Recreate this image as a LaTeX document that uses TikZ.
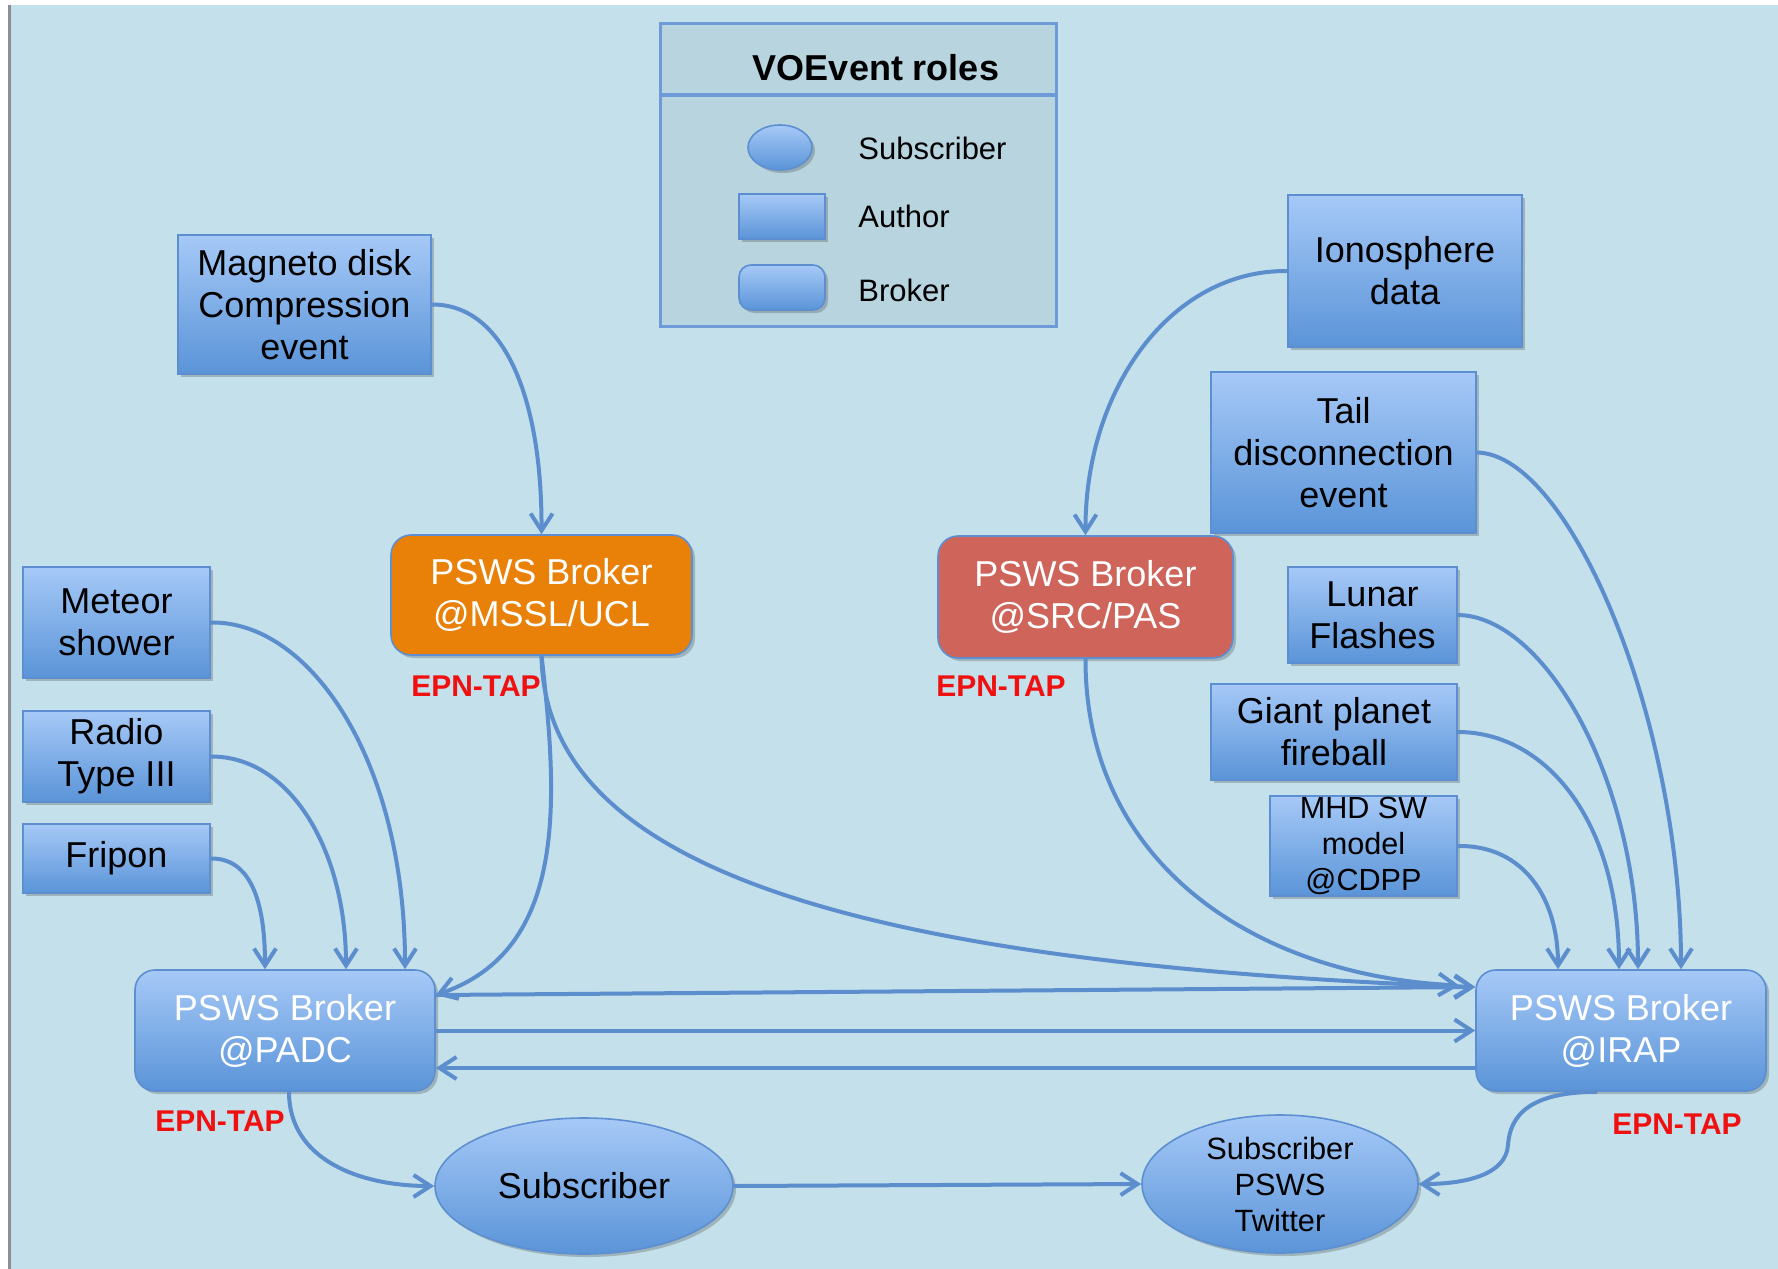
\documentclass[tikz,border=0pt]{standalone}
\usepackage{fontspec}
\setmainfont{Liberation Sans}
\usetikzlibrary{shapes.geometric,arrows.meta,shadows}
\definecolor{bg}{HTML}{C3E0EB}
\definecolor{lgfill}{HTML}{B7D4DF}
\definecolor{lgline}{HTML}{6E9BD8}
\definecolor{boxtop}{HTML}{A6C9F7}
\definecolor{boxbot}{HTML}{5A94D8}
\definecolor{boxline}{HTML}{5D8FD0}
\definecolor{orng}{HTML}{E98008}
\definecolor{rosy}{HTML}{CE645A}
\definecolor{linkcol}{HTML}{5C8DCC}
\definecolor{edgegray}{HTML}{8E8E9A}
\definecolor{epnred}{HTML}{F01010}
\begin{document}
\begin{tikzpicture}[x=0.5pt,y=-0.5pt,
  shad/.style={drop shadow={shadow xshift=1.5pt,shadow yshift=-1.5pt,opacity=0.3,fill=black!70}},
  auth/.style={rectangle,draw=boxline,line width=0.8pt,top color=boxtop,bottom color=boxbot,
    shad,align=center,inner sep=0pt,font=\fontsize{18pt}{21pt}\selectfont},
  brk/.style={auth,rounded corners=10pt,text=white},
  flatbrk/.style={rectangle,rounded corners=10pt,draw=boxline,line width=0.8pt,shad,
    align=center,inner sep=0pt,text=white,font=\fontsize{18pt}{21pt}\selectfont},
  subs/.style={ellipse,draw=boxline,line width=0.8pt,top color=boxtop,bottom color=boxbot,
    shad,align=center,inner sep=0pt},
  epn/.style={text=epnred,font=\bfseries\fontsize{15pt}{17pt}\selectfont,inner sep=0pt},
  lgtext/.style={anchor=west,inner sep=0pt,font=\fontsize{15.5pt}{18pt}\selectfont},
  link/.style={draw=linkcol,line width=2pt,-{Straight Barb[length=8.5pt,width=11pt]}},
  plain/.style={draw=linkcol,line width=2pt}
]
\useasboundingbox (0,0) rectangle (1778,1269);
\fill[white] (0,0) rectangle (1778,1269);
\fill[edgegray] (8,5) rectangle (11,1269);
\fill[bg] (11,5) rectangle (1778,1269);

% legend
\node[rectangle,draw=lgline,fill=lgfill,line width=1.5pt,minimum width=198pt,minimum height=151.5pt,inner sep=0pt] (legend) at (858,174.5) {};
\draw[lgline,line width=2pt] ([yshift=-36.5pt]legend.north west) -- ([yshift=-36.5pt]legend.north east);
\node[font=\bfseries\fontsize{18pt}{20pt}\selectfont,inner sep=0pt] (lgtitle) at (876,68) {VOEvent roles};
\node[subs,minimum width=32pt,minimum height=22.5pt] (lsub) at (780,147.5) {};
\node[auth,minimum width=43pt,minimum height=22.5pt] (lauth) at (782,216.5) {};
\node[auth,rounded corners=6pt,minimum width=43pt,minimum height=22.5pt] (lbrk) at (782,287.5) {};
\node[lgtext] (lsubt) at (858,148) {Subscriber};
\node[lgtext] (lautht) at (858,216) {Author};
\node[lgtext] (lbrkt) at (858,290) {Broker};

% author boxes
\node[auth,minimum width=126.5pt,minimum height=69.5pt] (magneto) at (304.5,304.5) {Magneto disk\\Compression\\event};
\node[auth,minimum width=117pt,minimum height=76pt] (iono) at (1405,271) {Ionosphere\\data};
\node[auth,minimum width=132.5pt,minimum height=80.5pt] (tail) at (1343.5,452.5) {Tail\\disconnection\\event};
\node[auth,minimum width=84.5pt,minimum height=48pt] (lunar) at (1372.5,615) {Lunar\\Flashes};
\node[auth,minimum width=123pt,minimum height=48pt] (giant) at (1334,732) {Giant planet\\fireball};
\node[auth,minimum width=93.5pt,minimum height=50pt,font=\fontsize{15.3pt}{18pt}\selectfont] (mhd) at (1363.5,846) {MHD SW\\model\\@CDPP};
\node[auth,minimum width=93.5pt,minimum height=55.5pt] (meteor) at (116.5,622.5) {Meteor\\shower};
\node[auth,minimum width=93.5pt,minimum height=45.5pt] (radio) at (116.5,756.5) {Radio\\Type III};
\node[auth,minimum width=93.5pt,minimum height=34.5pt] (fripon) at (116.5,858.5) {Fripon};

% brokers
\node[flatbrk,fill=orng,minimum width=150.5pt,minimum height=60pt] (mssl) at (541.5,595) {PSWS Broker\\@MSSL/UCL};
\node[flatbrk,fill=rosy,minimum width=147.5pt,minimum height=61pt] (src) at (1085.5,597) {PSWS Broker\\@SRC/PAS};
\node[brk,minimum width=150pt,minimum height=60.5pt] (padc) at (285,1030.5) {PSWS Broker\\@PADC};
\node[brk,minimum width=145pt,minimum height=60.5pt] (irap) at (1621,1030.5) {PSWS Broker\\@IRAP};

% subscribers
\node[subs,minimum width=149pt,minimum height=68pt,font=\fontsize{18pt}{21pt}\selectfont] (sub) at (584,1186) {Subscriber};
\node[subs,minimum width=138pt,minimum height=69pt,font=\fontsize{15.4pt}{18pt}\selectfont] (tw) at (1280,1184) {Subscriber\\PSWS\\Twitter};

% EPN-TAP labels
\node[epn] (e1) at (476,686) {EPN-TAP};
\node[epn] (e2) at (1001,686) {EPN-TAP};
\node[epn] (e3) at (220,1121) {EPN-TAP};
\node[epn] (e4) at (1677,1124) {EPN-TAP};

% connectors
\draw[link] (magneto.east) .. controls (505,304) and (542,400) .. (mssl.north);
\draw[link] (iono.west) .. controls (1170,270) and (1085,390) .. (src.north);
\draw[link] (tail.east) .. controls (1570,454) and (1681,720) .. ([xshift=30pt]irap.north);
\draw[link] (lunar.east) .. controls (1545,616) and (1638,780) .. ([xshift=8.5pt]irap.north);
\draw[link] (giant.east) .. controls (1545,732) and (1619,820) .. ([xshift=-1pt]irap.north);
\draw[link] (mhd.east) .. controls (1525,845) and (1558,900) .. ([xshift=-31.5pt]irap.north);
\draw[link] (meteor.east) .. controls (310,621) and (405,760) .. ([xshift=60pt]padc.north);
\draw[link] (radio.east) .. controls (290,756) and (346,850) .. ([xshift=30.5pt]padc.north);
\draw[link] (fripon.east) .. controls (250,858) and (265,900) .. ([xshift=-10pt]padc.north);
\draw[link] (mssl.south) .. controls (558,800) and (568,950) .. ([yshift=17.75pt]padc.east);
\draw[link] (mssl.south) .. controls (545,850) and (800,962) .. ([yshift=21.75pt]irap.west);
\draw[link] (src.south) .. controls (1085,860) and (1250,975) .. ([xshift=-8pt,yshift=22.5pt]irap.west);
\draw[link] ([yshift=17.75pt]padc.east) -- ([yshift=21.75pt]irap.west);
\draw[link] (padc.east) -- (irap.west);
\draw[link] ([yshift=-18.75pt]irap.west) -- ([yshift=-18.75pt]padc.east);
\draw[link] ([xshift=2pt]padc.south) .. controls (289,1160) and (360,1186) .. (sub.west);
\draw[link] (sub.east) -- (tw.west);
\draw[link] ([xshift=-12pt]irap.south) .. controls (1530,1092) and (1510,1115) .. (1508,1145) .. controls (1506,1175) and (1465,1184) .. (tw.east);
\end{tikzpicture}
\end{document}
